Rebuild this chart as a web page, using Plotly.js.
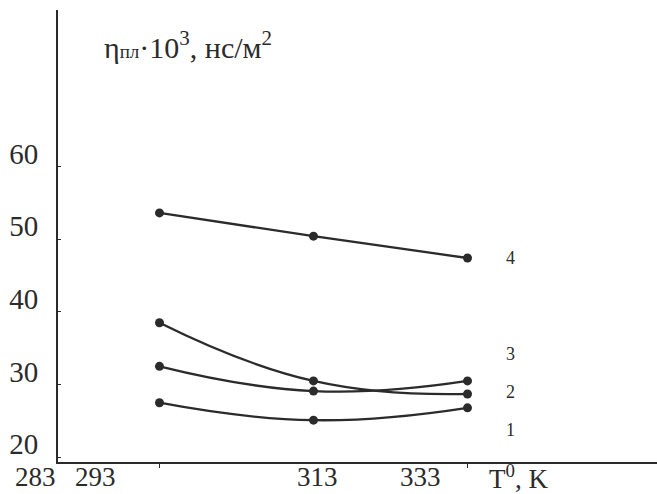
<!DOCTYPE html>
<html>
<head>
<meta charset="utf-8">
<script src="https://cdn.plot.ly/plotly-3.0.1.min.js"></script>
<style>html,body{margin:0;padding:0;background:#fff;}#chart{width:657px;height:494px;}</style>
</head>
<body>
<div id="chart"></div>
<script>
// Data
const temps = [293, 313, 333];
const series1 = [27.5, 25.1, 26.8];
const series2 = [32.5, 29.1, 30.5];
const series3 = [38.5, 30.5, 28.7];
const series4 = [53.6, 50.4, 47.4];
const seriesNames = ['1', '2', '3', '4'];
const yTickVals = [20, 30, 40, 50, 60];
const xTickLabels = ['283', '293', '313', '333'];
const yTitle = 'η<span style="font-size:19px">пл</span>·10<sup>3</sup>, нс/м<sup>2</sup>';
const xTitle = 'T<sup>0</sup>, K';

// Styling
const ink = '#2b2b2b';
const font = 'Liberation Serif, Times New Roman, serif';
const xLabelPos = [-0.037, 0.062, 0.433, 0.606];
const seriesLabelY = [0.0708, 0.1555, 0.239, 0.452];

const allSeries = [series1, series2, series3, series4];
const traces = allSeries.map((ys, i) => ({
  x: temps, y: ys, name: seriesNames[i], type: 'scatter', mode: 'lines+markers',
  line: {color: ink, width: 2.3, shape: 'spline', smoothing: 1.3},
  marker: {color: ink, size: 9},
  showlegend: false, hoverinfo: 'skip'
}));

const annotations = [];
xTickLabels.forEach((t, i) => annotations.push({
  text: t, xref: 'paper', yref: 'paper', x: xLabelPos[i], y: -0.0332,
  xanchor: 'center', yanchor: 'middle', showarrow: false, borderpad: 0,
  font: {family: font, size: 27, color: ink}
}));
annotations.push({
  text: xTitle, xref: 'paper', yref: 'paper', x: 0.768, y: -0.0332,
  xanchor: 'center', yanchor: 'middle', showarrow: false, borderpad: 0,
  font: {family: font, size: 27, color: ink}
});
seriesNames.forEach((n, i) => annotations.push({
  text: n, xref: 'paper', yref: 'paper', x: 0.7546, y: seriesLabelY[i],
  xanchor: 'center', yanchor: 'middle', showarrow: false,
  font: {family: font, size: 18, color: ink}
}));
annotations.push({
  text: yTitle, xref: 'paper', yref: 'paper', x: 0.0735, y: 0.9226,
  xanchor: 'left', yanchor: 'middle', showarrow: false,
  font: {family: font, size: 30, color: ink}
});

const layout = {
  width: 657, height: 494,
  margin: {l: 58, r: 0, t: 10, b: 32},
  paper_bgcolor: '#fff', plot_bgcolor: '#fff',
  xaxis: {
    range: [279.82, 357.61], showgrid: false, zeroline: false,
    showline: true, linecolor: ink, linewidth: 2,
    tickvals: [293, 333], ticks: 'outside', ticklen: 4, tickcolor: ink,
    showticklabels: false
  },
  yaxis: {
    range: [19.35, 81.5], showgrid: false, zeroline: false,
    showline: true, linecolor: ink, linewidth: 2,
    tickvals: yTickVals, ticks: 'inside', ticklen: 3, tickcolor: ink,
    ticklabelshift: -13, ticklabelstandoff: 12,
    tickfont: {family: font, size: 29, color: ink}
  },
  annotations: annotations
};

Plotly.newPlot('chart', traces, layout, {staticPlot: true, displayModeBar: false});
</script>
</body>
</html>
